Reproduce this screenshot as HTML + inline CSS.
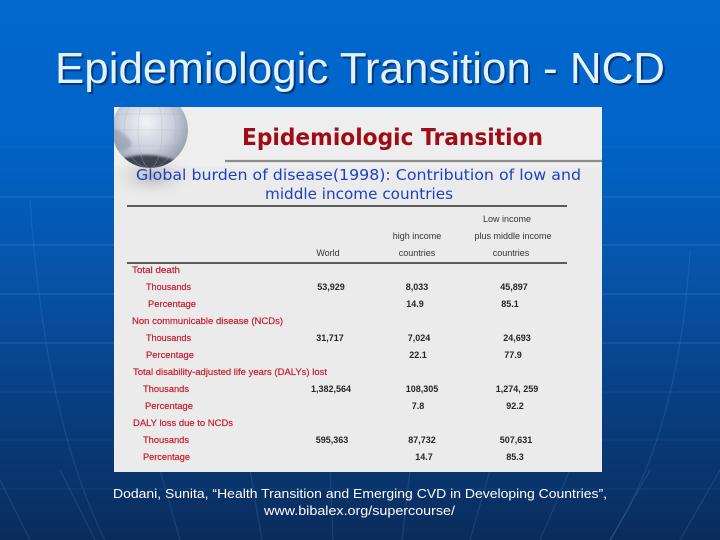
<!DOCTYPE html>
<html>
<head>
<meta charset="utf-8">
<style>
html,body{margin:0;padding:0;width:720px;height:540px;overflow:hidden;background:#0a2d5e;}
svg{display:block;}
</style>
</head>
<body>
<svg width="720" height="540" viewBox="0 0 720 540" xmlns="http://www.w3.org/2000/svg">
  <defs>
    <linearGradient id="bg" x1="0" y1="0" x2="0" y2="1">
      <stop offset="0" stop-color="#0068cf"/>
      <stop offset="0.25" stop-color="#0064c8"/>
      <stop offset="0.5" stop-color="#0754aa"/>
      <stop offset="0.75" stop-color="#083e80"/>
      <stop offset="1" stop-color="#0a2c5c"/>
    </linearGradient>
    <radialGradient id="globe" cx="0.45" cy="0.4" r="0.65">
      <stop offset="0" stop-color="#f2f4f8"/>
      <stop offset="0.55" stop-color="#c9cfdb"/>
      <stop offset="1" stop-color="#8d96a8"/>
    </radialGradient>
    <radialGradient id="gshadow" cx="0.5" cy="0.5" r="0.5">
      <stop offset="0" stop-color="#a4a4a4" stop-opacity="0.75"/>
      <stop offset="1" stop-color="#ebebeb" stop-opacity="0"/>
    </radialGradient>
    <clipPath id="panelclip"><rect x="114" y="107" width="488" height="365"/></clipPath>
    <clipPath id="globeclip"><circle cx="150" cy="130" r="38"/></clipPath>
    <filter id="blur1"><feGaussianBlur stdDeviation="1.2"/></filter>
  </defs>

  <!-- background -->
  <rect x="0" y="0" width="720" height="540" fill="url(#bg)"/>
  <g stroke="#5d9ef0" stroke-opacity="0.2" stroke-width="1.5">
    <line x1="0" y1="147" x2="720" y2="147" stroke-opacity="0.08"/>
    <line x1="0" y1="197" x2="720" y2="197"/>
    <line x1="0" y1="245" x2="720" y2="245"/>
    <line x1="0" y1="294" x2="720" y2="294"/>
    <line x1="0" y1="343" x2="720" y2="343"/>
    <line x1="0" y1="392" x2="720" y2="392" stroke-opacity="0.08"/>
    <line x1="0" y1="440" x2="720" y2="440" stroke-opacity="0.08"/>
    <line x1="0" y1="489" x2="720" y2="489" stroke-opacity="0.07"/>
  </g>
  <g fill="none" stroke="#6aa8f5" stroke-opacity="0.16" stroke-width="1.2">
    <path d="M30 200 Q45 420 105 540"/>
    <path d="M690 250 Q680 430 610 540"/>
    <path d="M0 480 L30 540"/>
    <path d="M60 470 L95 540"/>
    <path d="M160 470 L180 540"/>
    <path d="M250 470 L262 540"/>
    <path d="M330 470 L333 540"/>
    <path d="M410 470 L402 540"/>
    <path d="M490 470 L470 540"/>
    <path d="M570 470 L540 540"/>
    <path d="M650 470 L610 540"/>
    <path d="M720 470 L680 540"/>
  </g>

  <!-- main title -->
  <text x="57" y="85" font-family="Liberation Sans, Arial, sans-serif" font-size="44" fill="#0a2350" fill-opacity="0.7" textLength="610" lengthAdjust="spacingAndGlyphs">Epidemiologic Transition - NCD</text>
  <text x="55" y="83" font-family="Liberation Sans, Arial, sans-serif" font-size="44" fill="#e4f2ff" textLength="610" lengthAdjust="spacingAndGlyphs">Epidemiologic Transition - NCD</text>

  <!-- panel -->
  <rect x="114" y="107" width="488" height="365" fill="#ebebeb"/>
  <g clip-path="url(#panelclip)">
    <rect x="114" y="107" width="488" height="60" fill="#eeeeee"/>
    <!-- globe -->
    <ellipse cx="152" cy="176" rx="46" ry="24" fill="url(#gshadow)"/>
    <circle cx="150" cy="130" r="38" fill="url(#globe)"/>
    <g clip-path="url(#globeclip)">
      <path d="M124 158 Q145 152 168 158 Q182 162 186 168 L186 175 L124 175 Z" fill="#3c4450" filter="url(#blur1)"/>
      <path d="M112 128 Q126 132 132 144 Q128 152 114 150 Z" fill="#8a93a4" fill-opacity="0.55" filter="url(#blur1)"/>
      <g stroke="#aab2c0" stroke-width="0.6" fill="none" stroke-opacity="0.55">
        <ellipse cx="150" cy="130" rx="12" ry="38"/>
        <ellipse cx="150" cy="130" rx="26" ry="38"/>
        <line x1="112" y1="130" x2="188" y2="130"/>
        <line x1="115" y1="114" x2="185" y2="114"/>
        <line x1="115" y1="146" x2="185" y2="146"/>
      </g>
    </g>
  </g>

  <!-- panel title -->
  <text x="242" y="145" font-family="DejaVu Sans, Liberation Sans, sans-serif" font-weight="bold" font-size="23" fill="#a00c16" textLength="301" lengthAdjust="spacingAndGlyphs">Epidemiologic Transition</text>
  <line x1="225" y1="161" x2="602" y2="161" stroke="#8c8c8c" stroke-width="2.2"/>

  <!-- subtitle -->
  <g font-family="DejaVu Sans, Liberation Sans, sans-serif" font-size="15" fill="#1c3fc8">
    <text x="136" y="180" textLength="445" lengthAdjust="spacingAndGlyphs">Global burden of disease(1998): Contribution of low and</text>
    <text x="265" y="199" textLength="188" lengthAdjust="spacingAndGlyphs">middle income countries</text>
  </g>
  <line x1="127" y1="206" x2="567" y2="206" stroke="#2a2a2a" stroke-width="1.6"/>

  <!-- headers -->
  <g font-family="Liberation Sans, Arial, sans-serif" font-size="9" fill="#333" text-anchor="middle">
    <text x="507" y="222">Low income</text>
    <text x="417" y="239">high income</text>
    <text x="513" y="239">plus middle income</text>
    <text x="328" y="256">World</text>
    <text x="417" y="256">countries</text>
    <text x="511" y="256">countries</text>
  </g>
  <line x1="127" y1="263" x2="567" y2="263" stroke="#2a2a2a" stroke-width="1.6"/>

  <!-- row labels -->
  <g font-family="Liberation Sans, Arial, sans-serif" font-size="9.5" fill="#c41e2e" stroke="#c41e2e" stroke-width="0.2">
    <text x="132" y="273" textLength="48" lengthAdjust="spacingAndGlyphs">Total death</text>
    <text x="146" y="290" textLength="45" lengthAdjust="spacingAndGlyphs">Thousands</text>
    <text x="148" y="307" textLength="48" lengthAdjust="spacingAndGlyphs">Percentage</text>
    <text x="132" y="324" textLength="151" lengthAdjust="spacingAndGlyphs">Non communicable disease (NCDs)</text>
    <text x="146" y="341" textLength="45" lengthAdjust="spacingAndGlyphs">Thousands</text>
    <text x="146" y="358" textLength="48" lengthAdjust="spacingAndGlyphs">Percentage</text>
    <text x="133" y="375" textLength="194" lengthAdjust="spacingAndGlyphs">Total disability-adjusted life years (DALYs) lost</text>
    <text x="143" y="392" textLength="46" lengthAdjust="spacingAndGlyphs">Thousands</text>
    <text x="145" y="409" textLength="48" lengthAdjust="spacingAndGlyphs">Percentage</text>
    <text x="133" y="426" textLength="100" lengthAdjust="spacingAndGlyphs">DALY loss due to NCDs</text>
    <text x="143" y="443" textLength="46" lengthAdjust="spacingAndGlyphs">Thousands</text>
    <text x="143" y="460" textLength="47" lengthAdjust="spacingAndGlyphs">Percentage</text>
  </g>

  <!-- numbers -->
  <g font-family="Liberation Sans, Arial, sans-serif" font-size="9" font-weight="bold" fill="#262626" text-anchor="middle">
    <text x="331" y="290">53,929</text>
    <text x="417" y="290">8,033</text>
    <text x="514" y="290">45,897</text>
    <text x="415" y="307">14.9</text>
    <text x="510" y="307">85.1</text>
    <text x="330" y="341">31,717</text>
    <text x="419" y="341">7,024</text>
    <text x="517" y="341">24,693</text>
    <text x="418" y="358">22.1</text>
    <text x="513" y="358">77.9</text>
    <text x="331" y="392">1,382,564</text>
    <text x="422" y="392">108,305</text>
    <text x="517" y="392">1,274, 259</text>
    <text x="418" y="409">7.8</text>
    <text x="515" y="409">92.2</text>
    <text x="332" y="443">595,363</text>
    <text x="422" y="443">87,732</text>
    <text x="516" y="443">507,631</text>
    <text x="424" y="460">14.7</text>
    <text x="515" y="460">85.3</text>
  </g>

  <!-- footer -->
  <g font-family="Liberation Sans, Arial, sans-serif" font-size="13" fill="#ffffff">
    <text x="113" y="498" textLength="494" lengthAdjust="spacingAndGlyphs">Dodani, Sunita, “Health Transition and Emerging CVD in Developing Countries”,</text>
    <text x="264" y="515" textLength="191" lengthAdjust="spacingAndGlyphs">www.bibalex.org/supercourse/</text>
  </g>
</svg>
</body>
</html>
